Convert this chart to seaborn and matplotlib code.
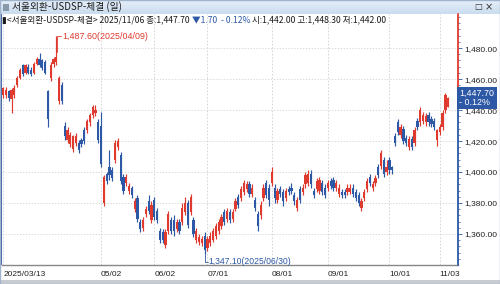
import numpy as np
import pandas as pd
import matplotlib
matplotlib.use("Agg")
import matplotlib.pyplot as plt
from matplotlib.patches import Rectangle
import seaborn as sns

# ---------------- data ----------------
holidays = ["2025-05-01", "2025-05-05", "2025-05-06", "2025-06-03", "2025-06-06",
            "2025-08-15", "2025-10-03", "2025-10-06", "2025-10-07", "2025-10-08", "2025-10-09"]

opens = [1450, 1450, 1452, 1447, 1450, 1456, 1461, 1469, 1464, 1468,
         1466, 1464, 1470, 1473, 1472, 1471, 1452, 1461, 1470, 1471,
         1446, 1456, 1430, 1421, 1418, 1415, 1419, 1419, 1421, 1427,
         1427, 1432, 1437, 1438, 1432, 1430, 1380, 1399, 1403, 1401,
         1408, 1416, 1411, 1397, 1393, 1388, 1390, 1376, 1383, 1368,
         1364, 1373, 1381, 1369, 1382, 1375, 1362, 1361, 1353, 1362,
         1369, 1369, 1363, 1368, 1368, 1374, 1380, 1374, 1369, 1356,
         1355, 1354, 1359, 1351, 1354, 1356, 1359, 1362, 1365, 1374,
         1370, 1374, 1370, 1376, 1384, 1383, 1387, 1389, 1392, 1386,
         1382, 1373, 1372, 1383, 1393, 1390, 1393, 1390, 1382, 1389,
         1387, 1383, 1389, 1390, 1385, 1377, 1389, 1387, 1392, 1393,
         1399, 1388, 1389, 1388, 1393, 1390, 1390, 1394, 1395, 1390,
         1386, 1387, 1387, 1387, 1387, 1390, 1387, 1385, 1377, 1383,
         1389, 1397, 1390, 1393, 1403, 1404, 1408, 1400, 1408, 1403,
         1423, 1432, 1424, 1428, 1422, 1416, 1421, 1419, 1433, 1432,
         1433, 1432, 1437, 1434, 1433, 1421, 1426, 1429, 1440, 1442]
highs = [1455, 1455, 1453, 1454, 1456, 1462, 1467, 1470, 1470, 1470,
         1468, 1471, 1474, 1477, 1473, 1472, 1453, 1471, 1474, 1487.6,
         1462, 1458, 1432, 1429, 1426, 1424, 1425, 1421, 1422, 1429,
         1434, 1438, 1443, 1443, 1434, 1439, 1398, 1400, 1414, 1403,
         1421, 1422, 1413, 1399, 1399, 1393, 1391, 1383, 1385, 1370,
         1371, 1378, 1385, 1381, 1384, 1377, 1364, 1363, 1363, 1375,
         1371, 1372, 1370, 1370, 1380, 1384, 1382, 1386, 1371, 1364,
         1360, 1359, 1361, 1359, 1361, 1364, 1367, 1370, 1373, 1376,
         1377, 1376, 1376, 1383, 1386, 1391, 1395, 1394, 1394, 1392,
         1384, 1375, 1381, 1392, 1395, 1392, 1403, 1392, 1390, 1391,
         1389, 1390, 1391, 1393, 1387, 1384, 1391, 1392, 1400, 1401,
         1401, 1390, 1396, 1397, 1395, 1392, 1395, 1396, 1397, 1395,
         1392, 1389, 1389, 1392, 1392, 1392, 1389, 1387, 1383, 1389,
         1396, 1399, 1394, 1398, 1405, 1414, 1410, 1408, 1410, 1404,
         1425, 1434, 1431, 1430, 1424, 1423, 1423, 1429, 1435, 1442,
         1439, 1438, 1439, 1436, 1435, 1428, 1431, 1440, 1451, 1448.3]
lows = [1448, 1448, 1446, 1438, 1448, 1455, 1460, 1462, 1463, 1463,
        1462, 1463, 1469, 1468, 1466, 1463, 1429, 1459, 1468, 1469,
        1444, 1444, 1421, 1419, 1416, 1413, 1417, 1412, 1416, 1418,
        1425, 1430, 1435, 1436, 1419, 1403, 1378, 1392, 1395, 1394,
        1406, 1414, 1392, 1386, 1391, 1386, 1383, 1374, 1368, 1361,
        1362, 1371, 1373, 1367, 1369, 1367, 1354, 1354, 1351, 1360,
        1360, 1359, 1361, 1360, 1366, 1372, 1364, 1372, 1358, 1354,
        1353, 1352, 1347.1, 1349, 1352, 1355, 1357, 1360, 1363, 1366,
        1368, 1367, 1368, 1375, 1377, 1381, 1385, 1387, 1384, 1384,
        1375, 1362, 1370, 1381, 1383, 1378, 1391, 1380, 1380, 1384,
        1378, 1381, 1385, 1386, 1379, 1375, 1380, 1385, 1390, 1391,
        1390, 1383, 1387, 1386, 1385, 1383, 1388, 1389, 1388, 1388,
        1384, 1383, 1383, 1385, 1386, 1384, 1381, 1378, 1375, 1381,
        1387, 1391, 1388, 1391, 1396, 1402, 1397, 1398, 1399, 1399,
        1417, 1424, 1422, 1418, 1417, 1414, 1414, 1417, 1427, 1430,
        1431, 1430, 1430, 1429, 1427, 1417, 1424, 1427, 1438, 1442]
closes = [1454, 1453, 1448, 1453, 1454, 1461, 1466, 1463, 1469, 1464,
          1463, 1470, 1473, 1469, 1467, 1464, 1434, 1469, 1473, 1474,
          1461, 1446, 1423, 1427, 1424, 1423, 1423, 1414, 1418, 1420,
          1433, 1437, 1442, 1440, 1421, 1405, 1397, 1394, 1398, 1396,
          1419, 1420, 1394, 1388, 1397, 1391, 1385, 1381, 1370, 1363,
          1369, 1376, 1375, 1379, 1371, 1369, 1356, 1356, 1361, 1373,
          1362, 1362, 1368, 1362, 1377, 1380, 1366, 1384, 1360, 1362,
          1358, 1357, 1350, 1357, 1359, 1362, 1365, 1368, 1371, 1368,
          1375, 1369, 1374, 1381, 1379, 1389, 1393, 1392, 1386, 1390,
          1377, 1365, 1379, 1390, 1385, 1382, 1400, 1383, 1388, 1386,
          1381, 1388, 1387, 1388, 1381, 1382, 1382, 1390, 1398, 1399,
          1392, 1385, 1394, 1395, 1387, 1385, 1393, 1391, 1390, 1393,
          1390, 1385, 1385, 1390, 1390, 1386, 1383, 1380, 1381, 1387,
          1394, 1393, 1392, 1396, 1398, 1412, 1399, 1403, 1401, 1401,
          1419, 1426, 1429, 1420, 1419, 1421, 1416, 1427, 1429, 1440,
          1437, 1436, 1432, 1431, 1429, 1427, 1429, 1438, 1449.4, 1447.7]

y_ticks = [1360, 1380, 1400, 1420, 1440, 1460, 1480]
tick_dates = ["2025-03-13", "2025-05-02", "2025-06-02", "2025-07-01",
              "2025-08-01", "2025-09-01", "2025-10-01", "2025-11-03"]
tick_labels = ["2025/03/13", "05/02", "06/02", "07/01", "08/01", "09/01", "10/01", "11/03"]
title_text = "서울외환-USDSP-체결 (일)"
info_parts = [("▮<서울외환-USDSP-체결> 2025/11/06 종:1,447.70 ", "k"),
              ("▼1.70  - 0.12%", "blue"),
              (" 시:1,442.00 고:1,448.30 저:1,442.00", "k")]
max_label = "1,487.60(2025/04/09)"
min_label = "1,347.10(2025/06/30)"
last_label = "1,447.70\n- 0.12%"

# ---------------- build table ----------------
dates = pd.bdate_range("2025-03-13", "2025-11-06")
dates = dates[~dates.isin(pd.to_datetime(holidays))]
df = pd.DataFrame({"date": dates[:len(opens)], "open": opens, "high": highs,
                   "low": lows, "close": closes})
df["i"] = np.arange(len(df))
df["up"] = df["close"] >= df["open"]

RED = "#e0392d"
BLUE = "#2c58a6"
GRID = "#d0d0d0"

sns.set_theme(style="white")
plt.rcParams["font.family"] = ["Noto Sans CJK KR", "DejaVu Sans"]

fig = plt.figure(figsize=(5.0, 2.84), dpi=100)
W, H = 500, 284

def fx(px):
    return px / W

def fy(py):
    return 1 - py / H

# title bar
tb = fig.add_axes([0, fy(14), 1, 14 / H])
grad = np.linspace(0, 1, 50).reshape(-1, 1)
tb.imshow(grad, aspect="auto", cmap=matplotlib.colors.LinearSegmentedColormap.from_list(
    "tb", ["#e6eff9", "#cadcef"]), extent=[0, 1, 0, 1])
tb.set_xlim(0, 1); tb.set_ylim(0, 1); tb.axis("off")
fig.text(fx(12), fy(7), title_text, fontsize=7, color="#1a1a1a", va="center", ha="left",
         family=["Noto Sans CJK KR", "DejaVu Sans"])
fig.patches.append(Rectangle((fx(3), fy(11)), 6 / W, 7 / H, transform=fig.transFigure,
                             facecolor="#8899aa", edgecolor="none"))
fig.text(fx(478), fy(7), "□", fontsize=6, color="#333", va="center", ha="center",
         family=["DejaVu Sans"])
fig.text(fx(489), fy(7), "×", fontsize=7, color="#333", va="center", ha="center",
         family=["DejaVu Sans"])

# main axes
ax = fig.add_axes([fx(2), fy(265), (458 - 2) / W, (265 - 14) / H])
up = df[df["up"]]
dn = df[~df["up"]]
for sub, col in ((up, RED), (dn, BLUE)):
    ax.vlines(sub["i"], sub["low"], sub["high"], color=col, linewidth=0.85, zorder=3)
    body = np.maximum((sub["close"] - sub["open"]).abs(), 0.7)
    ax.bar(sub["i"], body, bottom=np.minimum(sub["open"], sub["close"]), width=0.8,
           color=col, edgecolor="none", zorder=4)

ax.set_xlim(-0.4, 162.5)
ax.set_ylim(1340, 1502)

# x ticks
tick_idx = [int(df.index[df["date"] == pd.Timestamp(d)][0]) for d in tick_dates]
ax.set_xticks(tick_idx)
ax.set_xticklabels(tick_labels, fontsize=6, color="#222", ha="left",
                   family=["Liberation Sans"])
ax.tick_params(axis="x", direction="out", length=3, width=0.6, color="#666", pad=1)

ax.yaxis.tick_right()
ax.set_yticks(y_ticks)
ax.set_yticklabels([f"{v:,.2f}" for v in y_ticks], fontsize=6, color="#222",
                   family=["Liberation Sans"])
ax.set_yticks(np.arange(1344, 1502, 4), minor=True)
ax.tick_params(axis="y", which="major", direction="out", length=3, width=0.6, color=BLUE, pad=1.5)
ax.tick_params(axis="y", which="minor", direction="out", length=1.5, width=0.5, color=BLUE)
for t, v in zip(ax.yaxis.get_major_ticks(), y_ticks):
    if v > closes[-1]:
        t.tick2line.set_color(RED)
for t, v in zip(ax.yaxis.get_minor_ticks(), np.arange(1344, 1502, 4)):
    if v > closes[-1]:
        t.tick2line.set_color(RED)

ax.grid(True, axis="y", color=GRID, linestyle=(0, (1.5, 2)), linewidth=0.6)
ax.grid(True, axis="x", color=GRID, linestyle=(0, (2, 2)), linewidth=0.6)
for s in ("top", "left", "right"):
    ax.spines[s].set_visible(False)
ax.spines["bottom"].set_color("#888888")
ax.spines["bottom"].set_linewidth(1.0)

# right axis line split at last price
xr = ax.get_xlim()[1]
ax.plot([xr, xr], [closes[-1], ax.get_ylim()[1]], color=RED, linewidth=1.3, clip_on=False, zorder=5)
ax.plot([xr, xr], [ax.get_ylim()[0], closes[-1]], color=BLUE, linewidth=1.3, clip_on=False, zorder=5)

# last price label
ax.text(xr + 0.5, closes[-1], last_label, fontsize=6.4, color="white", ha="left", va="center",
        linespacing=0.95, family=["Liberation Sans"], clip_on=False, zorder=6,
        bbox=dict(boxstyle="square,pad=0.25", facecolor=BLUE, edgecolor="none"))

# max / min annotations
imax = int(np.argmax(highs)); vmax = highs[imax]
imin = int(np.argmin(lows)); vmin = lows[imin]
ax.plot([imax + 0.4, imax + 0.4, imax + 1.8], [vmax - 10, vmax, vmax], color=RED, linewidth=0.6, zorder=5)
ax.text(imax + 2.0, vmax, max_label, fontsize=6.4, color=RED, ha="left", va="center",
        family=["Liberation Sans"])
ax.plot([imin, imin, imin + 1.2], [vmin, vmin - 5, vmin - 5], color=BLUE, linewidth=0.6, zorder=5,
        clip_on=False)
ax.text(imin + 1.4, vmin - 5, min_label, fontsize=6.2, color=BLUE, ha="left", va="center",
        family=["Liberation Sans"], clip_on=False)

# info line
fig.canvas.draw()
renderer = fig.canvas.get_renderer()
xpos = fx(2)
for txt, col in info_parts:
    t = fig.text(xpos, fy(20), txt, fontsize=6.2, color=(BLUE if col == "blue" else "#1a1a1a"),
                 ha="left", va="center", family=["Noto Sans CJK KR", "DejaVu Sans"])
    bb = t.get_window_extent(renderer)
    xpos = bb.x1 / fig.bbox.width

# bottom strip and frame
fig.patches.append(Rectangle((0, 0), 1, 4 / H, transform=fig.transFigure,
                             facecolor="#c8ccd2", edgecolor="none"))
fig.patches.append(Rectangle((0, fy(265)), 2 / W, (265 - 14) / H, transform=fig.transFigure,
                             facecolor="#3a5da8", edgecolor="none"))
fig.patches.append(Rectangle((0, 0), 1, 1, transform=fig.transFigure, fill=False,
                             edgecolor="#9fb3cc", linewidth=1))

fig.savefig("out.png", dpi=100)
